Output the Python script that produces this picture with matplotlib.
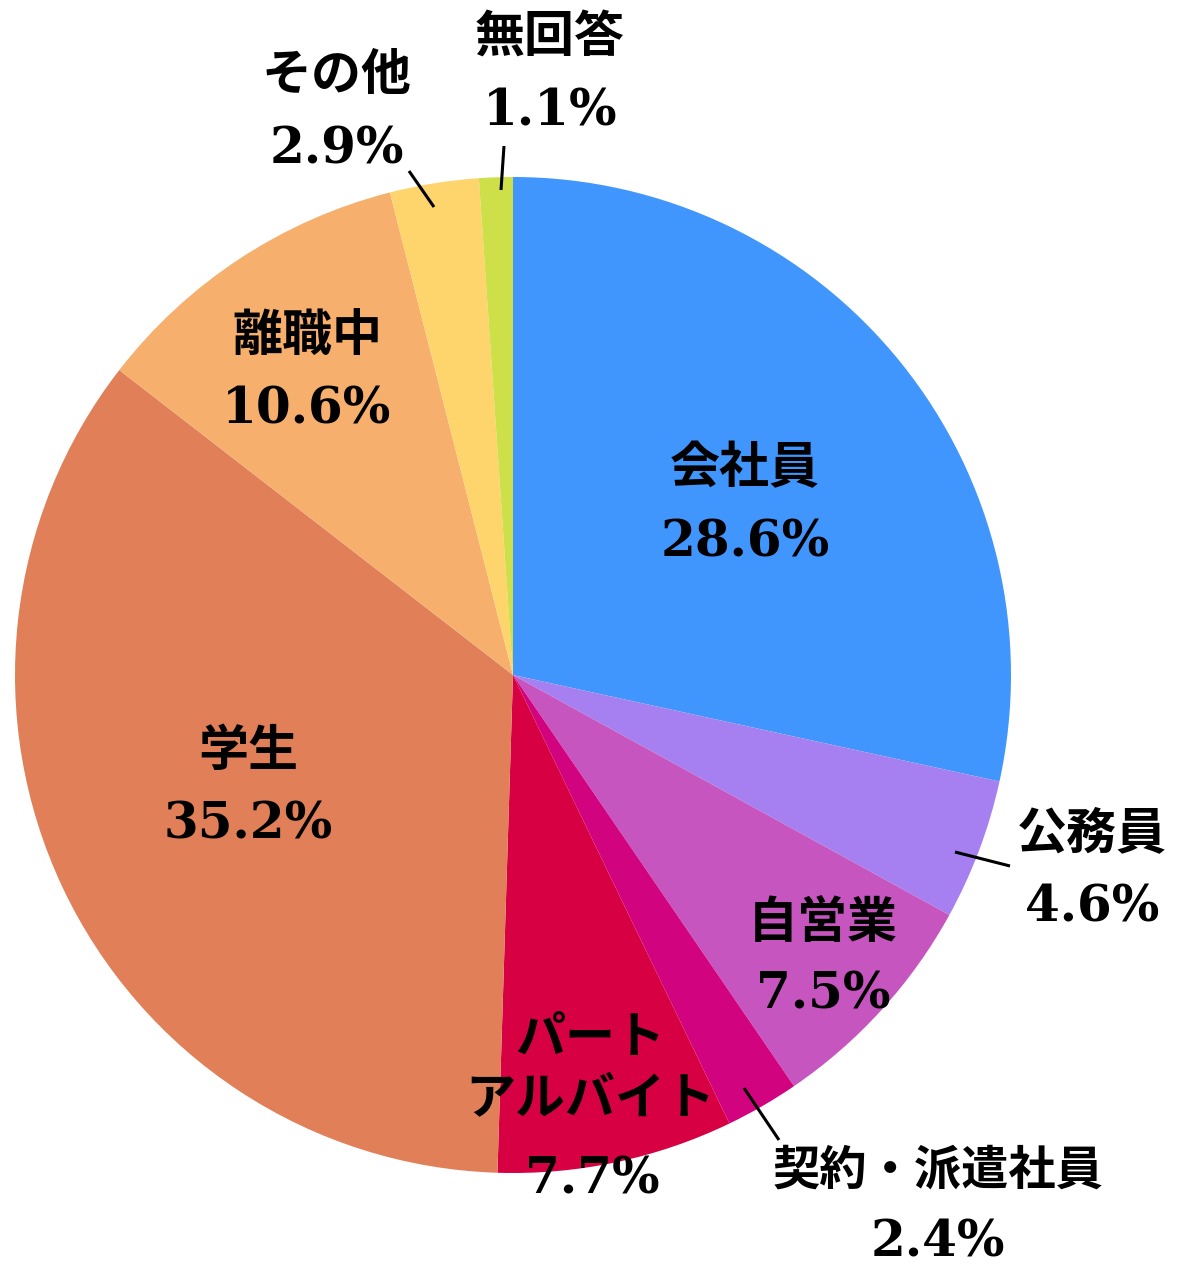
import matplotlib
matplotlib.use("Agg")
import matplotlib.pyplot as plt

# 回答の内訳 (上から時計回り)
labels = ["会社員", "公務員", "自営業", "契約・派遣社員", "パート\nアルバイト",
          "学生", "離職中", "その他", "無回答"]
values = [28.6, 4.6, 7.5, 2.4, 7.7, 35.2, 10.6, 2.9, 1.1]
colors = ["#4196FE", "#A680F0", "#C655C0", "#D2037E", "#D60043",
          "#E07F58", "#F6AF6C", "#FED46C", "#CDE04A"]

W, H = 1180, 1273
plt.rcParams['font.family'] = ['DejaVu Serif', 'Noto Sans CJK JP']

fig = plt.figure(figsize=(W / 100, H / 100), dpi=100)
ax = fig.add_axes([0, 0, 1, 1])

cx, cy, r = 513, H - 675, 498
ax.pie(values, colors=colors, startangle=90, counterclock=False,
       center=(cx, cy), radius=r, frame=True,
       wedgeprops=dict(linewidth=0))
ax.set_xlim(0, W)
ax.set_ylim(0, H)
ax.set_aspect('equal')
ax.axis('off')

# ラベル位置 (ピクセル座標)
label_pos = [(745, 470), (1092, 835), (823, 925), (938, 1172), (590, 1070),
             (248, 752), (307, 338), (337, 77), (550, 38)]
pct_pos = [(745, 543), (1092, 908), (823, 995), (938, 1243), (592, 1180),
           (248, 825), (307, 410), (337, 150), (550, 112)]

for lab, v, (lx, ly), (px, py) in zip(labels, values, label_pos, pct_pos):
    fs = 34 if "・" in lab else 36
    ax.text(lx, H - ly, lab, ha='center', va='center', fontsize=fs,
            fontweight='bold', linespacing=1.3)
    ax.text(px, H - py, f"{v}%", ha='center', va='center', fontsize=36,
            fontweight='bold')

# 引き出し線
leaders = [((955, 852), (1010, 866)),
           ((744, 1088), (779, 1140)),
           ((434, 207), (409, 171)),
           ((501, 190), (504, 146))]
for (x0, y0), (x1, y1) in leaders:
    ax.plot([x0, x1], [H - y0, H - y1], color='black', lw=2.2,
            solid_capstyle='butt')

fig.savefig("out.png", dpi=100)
